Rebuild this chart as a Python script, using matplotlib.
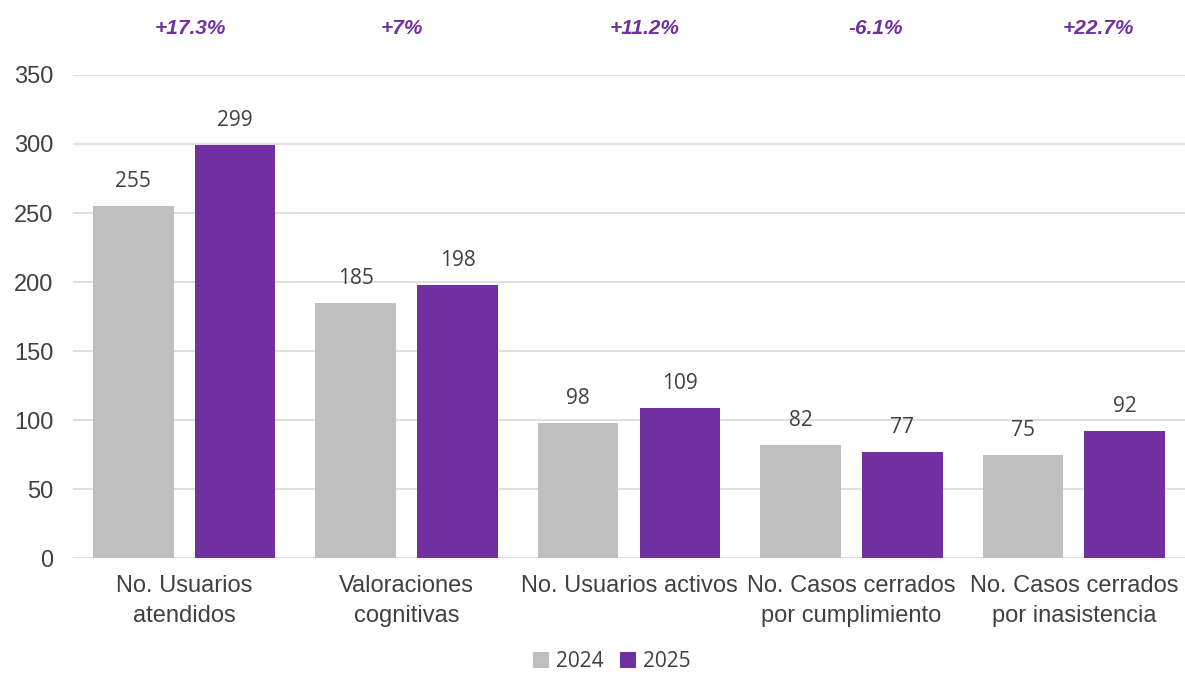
import matplotlib
matplotlib.use("Agg")
import matplotlib.pyplot as plt
import matplotlib.transforms as mtransforms
import numpy as np

categories = ["No. Usuarios\natendidos", "Valoraciones\ncognitivas", "No. Usuarios activos",
              "No. Casos cerrados\npor cumplimiento", "No. Casos cerrados\npor inasistencia"]
values_2024 = [255, 185, 98, 82, 75]
values_2025 = [299, 198, 109, 77, 92]
changes = ["+17.3%", "+7%", "+11.2%", "-6.1%", "+22.7%"]
change_offsets = [0.03, -0.02, 0.07, 0.11, 0.11]

GRAY = "#BFBFBF"
PURPLE = "#7030A0"
TXT = "#404040"

fig = plt.figure(figsize=(11.85, 6.75), dpi=100)
ax = fig.add_axes([0.0616, 0.1733, 0.9384, 0.7156])

x = np.arange(len(categories))
w = 0.363
off = 0.229
b1 = ax.bar(x - off, values_2024, w, color=GRAY, label="2024", zorder=2)
b2 = ax.bar(x + off, values_2025, w, color=PURPLE, label="2025", zorder=2)

for bars in (b1, b2):
    for r in bars:
        ax.annotate(f"{int(r.get_height())}", (r.get_x() + r.get_width() / 2, r.get_height()),
                    xytext=(0, 10), textcoords="offset points", ha="center", va="bottom",
                    fontsize=15, color=TXT, family="Open Sans")

ax.set_xlim(-0.5, len(categories) - 0.5)
ax.set_ylim(0, 350)
ax.set_yticks(np.arange(0, 351, 50))
ax.yaxis.grid(True, color="#D9D9D9", lw=1.2, zorder=0)
ax.set_axisbelow(True)
for s in ax.spines.values():
    s.set_visible(False)
ax.tick_params(axis="both", length=0, labelsize=17, labelcolor=TXT)
ax.tick_params(axis="y", pad=14)
ax.tick_params(axis="x", pad=12)
ax.set_xticks(x)
ax.set_xticklabels(categories, family="Liberation Sans", linespacing=1.5)
for lab in ax.get_yticklabels():
    lab.set_family("Liberation Sans")

trans = mtransforms.blended_transform_factory(ax.transData, fig.transFigure)
for i, (c, o) in enumerate(zip(changes, change_offsets)):
    ax.text(i + o, 0.958, c, transform=trans, ha="center", va="center",
            fontsize=15, fontweight="bold", fontstyle="italic", color=PURPLE,
            family="Liberation Sans")

fig.legend(handles=[b1, b2], labels=["2024", "2025"], loc="center",
           bbox_to_anchor=(0.516, 0.02), ncol=2, frameon=False,
           prop={"family": "Open Sans", "size": 15}, handlelength=0.8, handleheight=0.8,
           handletextpad=0.3, columnspacing=0.8, labelcolor=TXT,
           borderpad=0.1)

fig.savefig("out.png", dpi=100)
